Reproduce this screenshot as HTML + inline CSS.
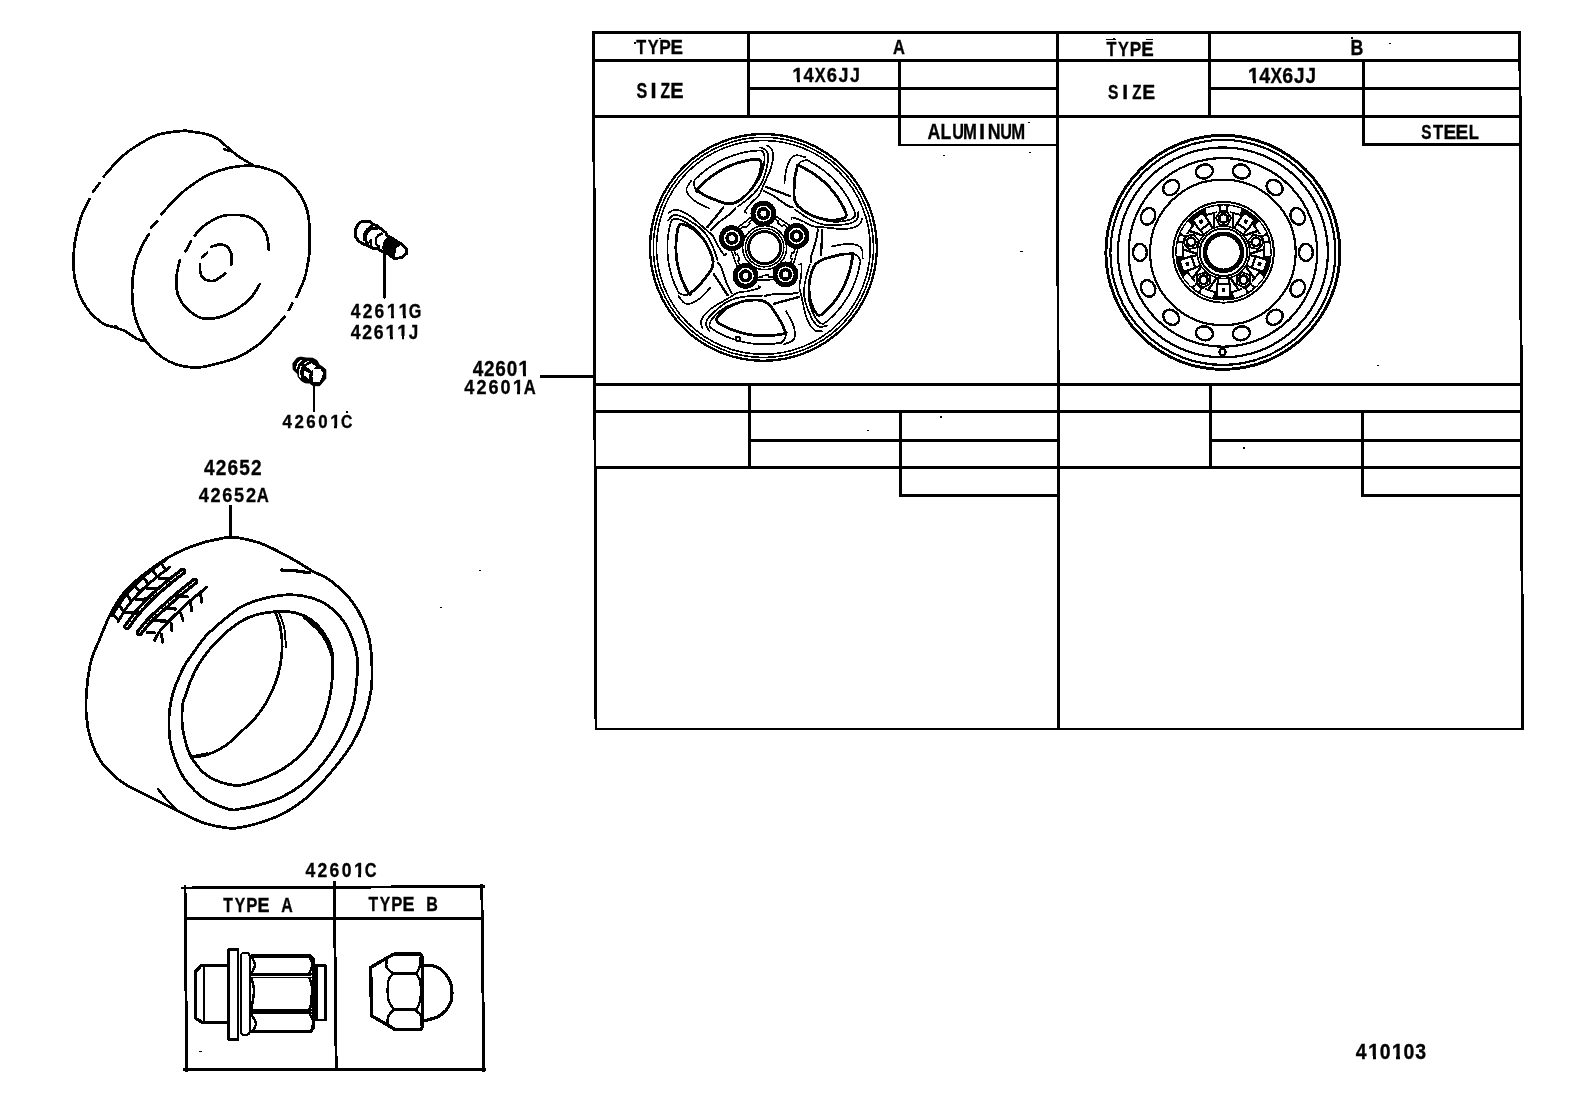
<!DOCTYPE html>
<html><head><meta charset="utf-8"><style>
html,body{margin:0;padding:0;background:#fff;overflow:hidden;}
svg{display:block;}
text{font-family:"Liberation Sans",sans-serif;font-weight:bold;fill:#000;stroke:#000;stroke-width:0.35px;text-anchor:middle;}
</style></head><body>
<svg width="1592" height="1099" viewBox="0 0 1592 1099">
<rect width="1592" height="1099" fill="#fff"/>
<g stroke="#000" fill="none" stroke-linecap="round" stroke-linejoin="round" shape-rendering="crispEdges">
<line x1="593.5" y1="32.2" x2="1519.8" y2="32.2" stroke-width="2.9" stroke-linecap="square"/>
<line x1="593.6" y1="60.3" x2="1519.9" y2="60.3" stroke-width="2.9" stroke-linecap="square"/>
<line x1="748.6" y1="88.6" x2="1057.6" y2="88.6" stroke-width="2.9" stroke-linecap="square"/>
<line x1="1209.6" y1="88.4" x2="1520.0" y2="88.4" stroke-width="2.9" stroke-linecap="square"/>
<line x1="593.8" y1="116.6" x2="1520.0" y2="116.6" stroke-width="2.9" stroke-linecap="square"/>
<line x1="899.8" y1="145" x2="1057.7" y2="145" stroke-width="2.9" stroke-linecap="square"/>
<line x1="1363.2" y1="144.6" x2="1520.2" y2="144.6" stroke-width="2.9" stroke-linecap="square"/>
<line x1="748.6" y1="32.2" x2="748.6" y2="116.6" stroke-width="2.9" stroke-linecap="square"/>
<line x1="1209.6" y1="32.2" x2="1209.6" y2="116.6" stroke-width="2.9" stroke-linecap="square"/>
<line x1="899.8" y1="60.3" x2="899.8" y2="145" stroke-width="2.9" stroke-linecap="square"/>
<line x1="1363.2" y1="60.3" x2="1363.2" y2="144.6" stroke-width="2.9" stroke-linecap="square"/>
<line x1="593.5" y1="32.2" x2="596.0" y2="729" stroke-width="2.9" stroke-linecap="square"/>
<line x1="1057.6" y1="32.2" x2="1058.6" y2="729" stroke-width="2.9" stroke-linecap="square"/>
<line x1="1519.8" y1="32.2" x2="1522.6" y2="729" stroke-width="2.9" stroke-linecap="square"/>
<line x1="594.8" y1="384.3" x2="1521.2" y2="384.3" stroke-width="2.9" stroke-linecap="square"/>
<line x1="594.9" y1="411.7" x2="1521.3" y2="411.7" stroke-width="2.9" stroke-linecap="square"/>
<line x1="749.8" y1="440.2" x2="1058.0" y2="440.2" stroke-width="2.9" stroke-linecap="square"/>
<line x1="1210.6" y1="440.3" x2="1521.4" y2="440.3" stroke-width="2.9" stroke-linecap="square"/>
<line x1="595.0" y1="467.6" x2="1521.5" y2="467.6" stroke-width="2.9" stroke-linecap="square"/>
<line x1="900.8" y1="495.6" x2="1058.1" y2="495.6" stroke-width="2.9" stroke-linecap="square"/>
<line x1="1362.8" y1="495.6" x2="1521.6" y2="495.6" stroke-width="2.9" stroke-linecap="square"/>
<line x1="749.8" y1="384.3" x2="749.8" y2="467.6" stroke-width="2.9" stroke-linecap="square"/>
<line x1="1210.6" y1="384.3" x2="1210.6" y2="467.6" stroke-width="2.9" stroke-linecap="square"/>
<line x1="900.8" y1="411.7" x2="900.8" y2="495.6" stroke-width="2.9" stroke-linecap="square"/>
<line x1="1362.8" y1="411.7" x2="1362.8" y2="495.6" stroke-width="2.9" stroke-linecap="square"/>
<line x1="596.0" y1="729" x2="1522.6" y2="729" stroke-width="2.9" stroke-linecap="square"/>
<line x1="541.5" y1="376.4" x2="593.5" y2="376.4" stroke-width="2.8" stroke-linecap="square"/>
<line x1="182.5" y1="888" x2="483.5" y2="886.5" stroke-width="2.9" stroke-linecap="square"/>
<line x1="185" y1="886.5" x2="186.7" y2="1070.5" stroke-width="2.9" stroke-linecap="square"/>
<line x1="481.8" y1="885.5" x2="483.8" y2="1070.5" stroke-width="2.9" stroke-linecap="square"/>
<line x1="184.5" y1="1069.6" x2="485" y2="1069.6" stroke-width="2.9" stroke-linecap="square"/>
<line x1="185" y1="918.6" x2="482.5" y2="918.6" stroke-width="2.9" stroke-linecap="square"/>
<line x1="334.3" y1="882.3" x2="336.2" y2="1069.5" stroke-width="2.9" stroke-linecap="square"/>
<rect x="479" y="570" width="2.2" height="1.3" fill="#000" stroke="none"/>
<rect x="440" y="607" width="2.2" height="1.3" fill="#000" stroke="none"/>
<rect x="1020" y="250.5" width="2.6" height="1.3" fill="#000" stroke="none"/>
<rect x="940.2" y="415.8" width="1.7" height="1.7" fill="#000" stroke="none"/>
<rect x="867.4" y="430" width="2.0" height="1.3" fill="#000" stroke="none"/>
<rect x="1243" y="447.3" width="2.2" height="1.3" fill="#000" stroke="none"/>
<rect x="1376.6" y="365" width="2.0" height="1.2" fill="#000" stroke="none"/>
<rect x="199" y="1051" width="2.5" height="1.3" fill="#000" stroke="none"/>
<rect x="1389" y="43.3" width="2.0" height="1.1" fill="#000" stroke="none"/>
<rect x="346" y="410.5" width="2.0" height="2.0" fill="#000" stroke="none"/>
<rect x="1351" y="37.4" width="2.0" height="1.8" fill="#000" stroke="none"/>
<rect x="1106" y="38.8" width="10" height="1.1" fill="#000" stroke="none"/>
<rect x="1145.5" y="38.5" width="7.5" height="1.1" fill="#000" stroke="none"/>
<rect x="659" y="37.6" width="2.2" height="1.2" fill="#000" stroke="none"/>
<rect x="634" y="42" width="2.2" height="2.2" fill="#000" stroke="none"/>
<rect x="1113" y="37.6" width="2" height="1.3" fill="#000" stroke="none"/>
<rect x="943" y="154.8" width="2.2" height="1.2" fill="#000" stroke="none"/>
<rect x="1029" y="152" width="2.2" height="1.2" fill="#000" stroke="none"/>
<rect x="1027.5" y="121.5" width="2.5" height="1.2" fill="#000" stroke="none"/>
<circle cx="763.40" cy="247.40" r="113.40" stroke-width="2.318" fill="none" stroke="#000"/>
<circle cx="763.40" cy="247.40" r="110.10" stroke-width="1.586" fill="none" stroke="#000"/>
<circle cx="763.40" cy="247.40" r="106.90" stroke-width="1.586" fill="none" stroke="#000"/>
<g transform="rotate(0 764.4 247.3)">
<path d="M696.61,190.41 C696.99,189.20 700.00,186.54 701.82,184.72 C703.64,182.90 705.54,181.16 707.51,179.51 C709.48,177.85 711.53,176.28 713.64,174.81 C715.74,173.33 717.92,171.94 720.15,170.66 C722.38,169.37 724.67,168.18 727.00,167.09 C729.33,166.01 731.72,165.02 734.13,164.14 C736.55,163.26 739.01,162.48 741.49,161.82 C743.98,161.15 746.50,160.59 749.03,160.14 C751.56,159.70 754.81,159.11 756.69,159.14 C758.56,159.16 759.53,159.49 760.30,160.30 C761.07,161.11 761.25,162.38 761.30,164.00 C761.35,165.62 760.98,168.00 760.60,170.00 C760.22,172.00 759.70,174.07 759.00,176.00 C758.30,177.93 757.90,179.10 756.40,181.60 C754.90,184.10 752.65,188.00 750.00,191.00 C747.35,194.00 743.35,197.52 740.50,199.60 C737.65,201.68 735.55,202.90 732.90,203.50 C730.25,204.10 727.58,203.82 724.60,203.20 C721.62,202.58 718.18,201.03 715.00,199.80 C711.82,198.57 708.08,197.10 705.50,195.80 C702.92,194.50 700.98,192.90 699.50,192.00 C698.02,191.10 696.22,191.63 696.61,190.41 Z" stroke-width="2.8059999999999996" fill="none"/>
<path d="M697.20,191.50 C696.27,189.83 694.83,188.42 694.40,186.50 C693.97,184.58 693.92,181.67 694.60,180.00 C695.28,178.33 697.47,177.48 698.50,176.50 C699.53,175.52 699.28,175.37 700.76,174.09 C702.24,172.81 705.10,170.48 707.38,168.83 C709.66,167.17 712.03,165.61 714.44,164.15 C716.86,162.70 719.35,161.35 721.88,160.12 C724.41,158.88 727.01,157.75 729.64,156.74 C732.27,155.73 734.95,154.83 737.66,154.06 C740.37,153.28 743.13,152.62 745.89,152.08 C748.66,151.54 751.66,151.05 754.26,150.83 C756.86,150.62 759.91,150.36 761.50,150.80 C763.09,151.24 763.28,152.18 763.80,153.50 C764.32,154.82 764.77,156.02 764.60,158.70 C764.43,161.38 763.72,166.27 762.80,169.60 C761.88,172.93 760.78,175.67 759.10,178.70 C757.42,181.73 755.28,184.62 752.70,187.80 C750.12,190.98 746.47,195.18 743.60,197.80 C740.73,200.42 738.20,201.60 735.50,203.50" stroke-width="1.708" fill="none"/>
<path d="M760.00,147.30 C762.13,148.37 765.03,148.77 766.40,150.50 C767.77,152.23 768.20,154.67 768.20,157.70 C768.20,160.73 767.30,164.90 766.40,168.70 C765.50,172.50 764.32,177.02 762.80,180.50 C761.28,183.98 759.73,186.57 757.30,189.60 C754.87,192.63 751.42,195.88 748.20,198.70 C744.98,201.52 741.40,203.90 738.00,206.50" stroke-width="1.708" fill="none"/>
<path d="M735.50,207.80 C734.17,209.47 734.38,210.30 731.50,212.80 C728.62,215.30 721.68,219.87 718.20,222.80 C714.72,225.73 713.13,227.87 710.60,230.40" stroke-width="1.952" fill="none"/>
<path d="M767.30,145.50 C768.83,146.87 770.92,147.72 771.90,149.60 C772.88,151.48 773.35,153.77 773.20,156.80 C773.05,159.83 772.13,164.15 771.00,167.80 C769.87,171.45 767.77,175.52 766.40,178.70 C765.03,181.88 764.02,184.17 762.80,186.90 C761.58,189.63 760.93,192.53 759.10,195.10 C757.27,197.67 754.22,199.58 751.80,202.30 C749.38,205.02 745.50,209.65 744.60,211.40 C743.70,213.15 745.80,212.33 746.40,212.80" stroke-width="1.708" fill="none"/>
<path d="M691.50,180.40 C689.87,183.10 687.13,186.12 686.60,188.50 C686.07,190.88 686.73,192.48 688.30,194.70 C689.87,196.92 692.50,199.52 696.00,201.80 C699.50,204.08 704.87,206.20 709.30,208.40" stroke-width="1.708" fill="none"/>
<path d="M723.30,207.50 L707.40,227.20" stroke-width="2.318" fill="none"/>
</g>
<g transform="rotate(72 764.4 247.3)">
<path d="M696.61,190.41 C696.99,189.20 700.00,186.54 701.82,184.72 C703.64,182.90 705.54,181.16 707.51,179.51 C709.48,177.85 711.53,176.28 713.64,174.81 C715.74,173.33 717.92,171.94 720.15,170.66 C722.38,169.37 724.67,168.18 727.00,167.09 C729.33,166.01 731.72,165.02 734.13,164.14 C736.55,163.26 739.01,162.48 741.49,161.82 C743.98,161.15 746.50,160.59 749.03,160.14 C751.56,159.70 754.81,159.11 756.69,159.14 C758.56,159.16 759.53,159.49 760.30,160.30 C761.07,161.11 761.25,162.38 761.30,164.00 C761.35,165.62 760.98,168.00 760.60,170.00 C760.22,172.00 759.70,174.07 759.00,176.00 C758.30,177.93 757.90,179.10 756.40,181.60 C754.90,184.10 752.65,188.00 750.00,191.00 C747.35,194.00 743.35,197.52 740.50,199.60 C737.65,201.68 735.55,202.90 732.90,203.50 C730.25,204.10 727.58,203.82 724.60,203.20 C721.62,202.58 718.18,201.03 715.00,199.80 C711.82,198.57 708.08,197.10 705.50,195.80 C702.92,194.50 700.98,192.90 699.50,192.00 C698.02,191.10 696.22,191.63 696.61,190.41 Z" stroke-width="2.8059999999999996" fill="none"/>
<path d="M697.20,191.50 C696.27,189.83 694.83,188.42 694.40,186.50 C693.97,184.58 693.92,181.67 694.60,180.00 C695.28,178.33 697.47,177.48 698.50,176.50 C699.53,175.52 699.28,175.37 700.76,174.09 C702.24,172.81 705.10,170.48 707.38,168.83 C709.66,167.17 712.03,165.61 714.44,164.15 C716.86,162.70 719.35,161.35 721.88,160.12 C724.41,158.88 727.01,157.75 729.64,156.74 C732.27,155.73 734.95,154.83 737.66,154.06 C740.37,153.28 743.13,152.62 745.89,152.08 C748.66,151.54 751.66,151.05 754.26,150.83 C756.86,150.62 759.91,150.36 761.50,150.80 C763.09,151.24 763.28,152.18 763.80,153.50 C764.32,154.82 764.77,156.02 764.60,158.70 C764.43,161.38 763.72,166.27 762.80,169.60 C761.88,172.93 760.78,175.67 759.10,178.70 C757.42,181.73 755.28,184.62 752.70,187.80 C750.12,190.98 746.47,195.18 743.60,197.80 C740.73,200.42 738.20,201.60 735.50,203.50" stroke-width="1.708" fill="none"/>
<path d="M760.00,147.30 C762.13,148.37 765.03,148.77 766.40,150.50 C767.77,152.23 768.20,154.67 768.20,157.70 C768.20,160.73 767.30,164.90 766.40,168.70 C765.50,172.50 764.32,177.02 762.80,180.50 C761.28,183.98 759.73,186.57 757.30,189.60 C754.87,192.63 751.42,195.88 748.20,198.70 C744.98,201.52 741.40,203.90 738.00,206.50" stroke-width="1.708" fill="none"/>
<path d="M735.50,207.80 C734.17,209.47 734.38,210.30 731.50,212.80 C728.62,215.30 721.68,219.87 718.20,222.80 C714.72,225.73 713.13,227.87 710.60,230.40" stroke-width="1.952" fill="none"/>
<path d="M767.30,145.50 C768.83,146.87 770.92,147.72 771.90,149.60 C772.88,151.48 773.35,153.77 773.20,156.80 C773.05,159.83 772.13,164.15 771.00,167.80 C769.87,171.45 767.77,175.52 766.40,178.70 C765.03,181.88 764.02,184.17 762.80,186.90 C761.58,189.63 760.93,192.53 759.10,195.10 C757.27,197.67 754.22,199.58 751.80,202.30 C749.38,205.02 745.50,209.65 744.60,211.40 C743.70,213.15 745.80,212.33 746.40,212.80" stroke-width="1.708" fill="none"/>
<path d="M691.50,180.40 C689.87,183.10 687.13,186.12 686.60,188.50 C686.07,190.88 686.73,192.48 688.30,194.70 C689.87,196.92 692.50,199.52 696.00,201.80 C699.50,204.08 704.87,206.20 709.30,208.40" stroke-width="1.708" fill="none"/>
<path d="M723.30,207.50 L707.40,227.20" stroke-width="2.318" fill="none"/>
</g>
<g transform="rotate(144 764.4 247.3)">
<path d="M696.61,190.41 C696.99,189.20 700.00,186.54 701.82,184.72 C703.64,182.90 705.54,181.16 707.51,179.51 C709.48,177.85 711.53,176.28 713.64,174.81 C715.74,173.33 717.92,171.94 720.15,170.66 C722.38,169.37 724.67,168.18 727.00,167.09 C729.33,166.01 731.72,165.02 734.13,164.14 C736.55,163.26 739.01,162.48 741.49,161.82 C743.98,161.15 746.50,160.59 749.03,160.14 C751.56,159.70 754.81,159.11 756.69,159.14 C758.56,159.16 759.53,159.49 760.30,160.30 C761.07,161.11 761.25,162.38 761.30,164.00 C761.35,165.62 760.98,168.00 760.60,170.00 C760.22,172.00 759.70,174.07 759.00,176.00 C758.30,177.93 757.90,179.10 756.40,181.60 C754.90,184.10 752.65,188.00 750.00,191.00 C747.35,194.00 743.35,197.52 740.50,199.60 C737.65,201.68 735.55,202.90 732.90,203.50 C730.25,204.10 727.58,203.82 724.60,203.20 C721.62,202.58 718.18,201.03 715.00,199.80 C711.82,198.57 708.08,197.10 705.50,195.80 C702.92,194.50 700.98,192.90 699.50,192.00 C698.02,191.10 696.22,191.63 696.61,190.41 Z" stroke-width="2.8059999999999996" fill="none"/>
<path d="M697.20,191.50 C696.27,189.83 694.83,188.42 694.40,186.50 C693.97,184.58 693.92,181.67 694.60,180.00 C695.28,178.33 697.47,177.48 698.50,176.50 C699.53,175.52 699.28,175.37 700.76,174.09 C702.24,172.81 705.10,170.48 707.38,168.83 C709.66,167.17 712.03,165.61 714.44,164.15 C716.86,162.70 719.35,161.35 721.88,160.12 C724.41,158.88 727.01,157.75 729.64,156.74 C732.27,155.73 734.95,154.83 737.66,154.06 C740.37,153.28 743.13,152.62 745.89,152.08 C748.66,151.54 751.66,151.05 754.26,150.83 C756.86,150.62 759.91,150.36 761.50,150.80 C763.09,151.24 763.28,152.18 763.80,153.50 C764.32,154.82 764.77,156.02 764.60,158.70 C764.43,161.38 763.72,166.27 762.80,169.60 C761.88,172.93 760.78,175.67 759.10,178.70 C757.42,181.73 755.28,184.62 752.70,187.80 C750.12,190.98 746.47,195.18 743.60,197.80 C740.73,200.42 738.20,201.60 735.50,203.50" stroke-width="1.708" fill="none"/>
<path d="M760.00,147.30 C762.13,148.37 765.03,148.77 766.40,150.50 C767.77,152.23 768.20,154.67 768.20,157.70 C768.20,160.73 767.30,164.90 766.40,168.70 C765.50,172.50 764.32,177.02 762.80,180.50 C761.28,183.98 759.73,186.57 757.30,189.60 C754.87,192.63 751.42,195.88 748.20,198.70 C744.98,201.52 741.40,203.90 738.00,206.50" stroke-width="1.708" fill="none"/>
<path d="M735.50,207.80 C734.17,209.47 734.38,210.30 731.50,212.80 C728.62,215.30 721.68,219.87 718.20,222.80 C714.72,225.73 713.13,227.87 710.60,230.40" stroke-width="1.952" fill="none"/>
<path d="M767.30,145.50 C768.83,146.87 770.92,147.72 771.90,149.60 C772.88,151.48 773.35,153.77 773.20,156.80 C773.05,159.83 772.13,164.15 771.00,167.80 C769.87,171.45 767.77,175.52 766.40,178.70 C765.03,181.88 764.02,184.17 762.80,186.90 C761.58,189.63 760.93,192.53 759.10,195.10 C757.27,197.67 754.22,199.58 751.80,202.30 C749.38,205.02 745.50,209.65 744.60,211.40 C743.70,213.15 745.80,212.33 746.40,212.80" stroke-width="1.708" fill="none"/>
<path d="M691.50,180.40 C689.87,183.10 687.13,186.12 686.60,188.50 C686.07,190.88 686.73,192.48 688.30,194.70 C689.87,196.92 692.50,199.52 696.00,201.80 C699.50,204.08 704.87,206.20 709.30,208.40" stroke-width="1.708" fill="none"/>
<path d="M723.30,207.50 L707.40,227.20" stroke-width="2.318" fill="none"/>
</g>
<g transform="rotate(216 764.4 247.3)">
<path d="M696.61,190.41 C696.99,189.20 700.00,186.54 701.82,184.72 C703.64,182.90 705.54,181.16 707.51,179.51 C709.48,177.85 711.53,176.28 713.64,174.81 C715.74,173.33 717.92,171.94 720.15,170.66 C722.38,169.37 724.67,168.18 727.00,167.09 C729.33,166.01 731.72,165.02 734.13,164.14 C736.55,163.26 739.01,162.48 741.49,161.82 C743.98,161.15 746.50,160.59 749.03,160.14 C751.56,159.70 754.81,159.11 756.69,159.14 C758.56,159.16 759.53,159.49 760.30,160.30 C761.07,161.11 761.25,162.38 761.30,164.00 C761.35,165.62 760.98,168.00 760.60,170.00 C760.22,172.00 759.70,174.07 759.00,176.00 C758.30,177.93 757.90,179.10 756.40,181.60 C754.90,184.10 752.65,188.00 750.00,191.00 C747.35,194.00 743.35,197.52 740.50,199.60 C737.65,201.68 735.55,202.90 732.90,203.50 C730.25,204.10 727.58,203.82 724.60,203.20 C721.62,202.58 718.18,201.03 715.00,199.80 C711.82,198.57 708.08,197.10 705.50,195.80 C702.92,194.50 700.98,192.90 699.50,192.00 C698.02,191.10 696.22,191.63 696.61,190.41 Z" stroke-width="2.8059999999999996" fill="none"/>
<path d="M697.20,191.50 C696.27,189.83 694.83,188.42 694.40,186.50 C693.97,184.58 693.92,181.67 694.60,180.00 C695.28,178.33 697.47,177.48 698.50,176.50 C699.53,175.52 699.28,175.37 700.76,174.09 C702.24,172.81 705.10,170.48 707.38,168.83 C709.66,167.17 712.03,165.61 714.44,164.15 C716.86,162.70 719.35,161.35 721.88,160.12 C724.41,158.88 727.01,157.75 729.64,156.74 C732.27,155.73 734.95,154.83 737.66,154.06 C740.37,153.28 743.13,152.62 745.89,152.08 C748.66,151.54 751.66,151.05 754.26,150.83 C756.86,150.62 759.91,150.36 761.50,150.80 C763.09,151.24 763.28,152.18 763.80,153.50 C764.32,154.82 764.77,156.02 764.60,158.70 C764.43,161.38 763.72,166.27 762.80,169.60 C761.88,172.93 760.78,175.67 759.10,178.70 C757.42,181.73 755.28,184.62 752.70,187.80 C750.12,190.98 746.47,195.18 743.60,197.80 C740.73,200.42 738.20,201.60 735.50,203.50" stroke-width="1.708" fill="none"/>
<path d="M760.00,147.30 C762.13,148.37 765.03,148.77 766.40,150.50 C767.77,152.23 768.20,154.67 768.20,157.70 C768.20,160.73 767.30,164.90 766.40,168.70 C765.50,172.50 764.32,177.02 762.80,180.50 C761.28,183.98 759.73,186.57 757.30,189.60 C754.87,192.63 751.42,195.88 748.20,198.70 C744.98,201.52 741.40,203.90 738.00,206.50" stroke-width="1.708" fill="none"/>
<path d="M735.50,207.80 C734.17,209.47 734.38,210.30 731.50,212.80 C728.62,215.30 721.68,219.87 718.20,222.80 C714.72,225.73 713.13,227.87 710.60,230.40" stroke-width="1.952" fill="none"/>
<path d="M767.30,145.50 C768.83,146.87 770.92,147.72 771.90,149.60 C772.88,151.48 773.35,153.77 773.20,156.80 C773.05,159.83 772.13,164.15 771.00,167.80 C769.87,171.45 767.77,175.52 766.40,178.70 C765.03,181.88 764.02,184.17 762.80,186.90 C761.58,189.63 760.93,192.53 759.10,195.10 C757.27,197.67 754.22,199.58 751.80,202.30 C749.38,205.02 745.50,209.65 744.60,211.40 C743.70,213.15 745.80,212.33 746.40,212.80" stroke-width="1.708" fill="none"/>
<path d="M691.50,180.40 C689.87,183.10 687.13,186.12 686.60,188.50 C686.07,190.88 686.73,192.48 688.30,194.70 C689.87,196.92 692.50,199.52 696.00,201.80 C699.50,204.08 704.87,206.20 709.30,208.40" stroke-width="1.708" fill="none"/>
<path d="M723.30,207.50 L707.40,227.20" stroke-width="2.318" fill="none"/>
</g>
<g transform="rotate(288 764.4 247.3)">
<path d="M696.61,190.41 C696.99,189.20 700.00,186.54 701.82,184.72 C703.64,182.90 705.54,181.16 707.51,179.51 C709.48,177.85 711.53,176.28 713.64,174.81 C715.74,173.33 717.92,171.94 720.15,170.66 C722.38,169.37 724.67,168.18 727.00,167.09 C729.33,166.01 731.72,165.02 734.13,164.14 C736.55,163.26 739.01,162.48 741.49,161.82 C743.98,161.15 746.50,160.59 749.03,160.14 C751.56,159.70 754.81,159.11 756.69,159.14 C758.56,159.16 759.53,159.49 760.30,160.30 C761.07,161.11 761.25,162.38 761.30,164.00 C761.35,165.62 760.98,168.00 760.60,170.00 C760.22,172.00 759.70,174.07 759.00,176.00 C758.30,177.93 757.90,179.10 756.40,181.60 C754.90,184.10 752.65,188.00 750.00,191.00 C747.35,194.00 743.35,197.52 740.50,199.60 C737.65,201.68 735.55,202.90 732.90,203.50 C730.25,204.10 727.58,203.82 724.60,203.20 C721.62,202.58 718.18,201.03 715.00,199.80 C711.82,198.57 708.08,197.10 705.50,195.80 C702.92,194.50 700.98,192.90 699.50,192.00 C698.02,191.10 696.22,191.63 696.61,190.41 Z" stroke-width="2.8059999999999996" fill="none"/>
<path d="M697.20,191.50 C696.27,189.83 694.83,188.42 694.40,186.50 C693.97,184.58 693.92,181.67 694.60,180.00 C695.28,178.33 697.47,177.48 698.50,176.50 C699.53,175.52 699.28,175.37 700.76,174.09 C702.24,172.81 705.10,170.48 707.38,168.83 C709.66,167.17 712.03,165.61 714.44,164.15 C716.86,162.70 719.35,161.35 721.88,160.12 C724.41,158.88 727.01,157.75 729.64,156.74 C732.27,155.73 734.95,154.83 737.66,154.06 C740.37,153.28 743.13,152.62 745.89,152.08 C748.66,151.54 751.66,151.05 754.26,150.83 C756.86,150.62 759.91,150.36 761.50,150.80 C763.09,151.24 763.28,152.18 763.80,153.50 C764.32,154.82 764.77,156.02 764.60,158.70 C764.43,161.38 763.72,166.27 762.80,169.60 C761.88,172.93 760.78,175.67 759.10,178.70 C757.42,181.73 755.28,184.62 752.70,187.80 C750.12,190.98 746.47,195.18 743.60,197.80 C740.73,200.42 738.20,201.60 735.50,203.50" stroke-width="1.708" fill="none"/>
<path d="M760.00,147.30 C762.13,148.37 765.03,148.77 766.40,150.50 C767.77,152.23 768.20,154.67 768.20,157.70 C768.20,160.73 767.30,164.90 766.40,168.70 C765.50,172.50 764.32,177.02 762.80,180.50 C761.28,183.98 759.73,186.57 757.30,189.60 C754.87,192.63 751.42,195.88 748.20,198.70 C744.98,201.52 741.40,203.90 738.00,206.50" stroke-width="1.708" fill="none"/>
<path d="M735.50,207.80 C734.17,209.47 734.38,210.30 731.50,212.80 C728.62,215.30 721.68,219.87 718.20,222.80 C714.72,225.73 713.13,227.87 710.60,230.40" stroke-width="1.952" fill="none"/>
<path d="M767.30,145.50 C768.83,146.87 770.92,147.72 771.90,149.60 C772.88,151.48 773.35,153.77 773.20,156.80 C773.05,159.83 772.13,164.15 771.00,167.80 C769.87,171.45 767.77,175.52 766.40,178.70 C765.03,181.88 764.02,184.17 762.80,186.90 C761.58,189.63 760.93,192.53 759.10,195.10 C757.27,197.67 754.22,199.58 751.80,202.30 C749.38,205.02 745.50,209.65 744.60,211.40 C743.70,213.15 745.80,212.33 746.40,212.80" stroke-width="1.708" fill="none"/>
<path d="M691.50,180.40 C689.87,183.10 687.13,186.12 686.60,188.50 C686.07,190.88 686.73,192.48 688.30,194.70 C689.87,196.92 692.50,199.52 696.00,201.80 C699.50,204.08 704.87,206.20 709.30,208.40" stroke-width="1.708" fill="none"/>
<path d="M723.30,207.50 L707.40,227.20" stroke-width="2.318" fill="none"/>
</g>
<circle cx="764.60" cy="247.60" r="22.00" stroke-width="1.586" fill="none" stroke="#000"/>
<circle cx="764.60" cy="247.60" r="19.20" stroke-width="1.586" fill="none" stroke="#000"/>
<circle cx="764.60" cy="247.60" r="16.00" stroke-width="2.928" fill="none" stroke="#000"/>
<path d="M772.81,217.55 L778.61,221.47 L777.60,222.96 L782.58,226.31 L783.58,224.82 L789.39,228.74" stroke-width="1.586" fill="none"/>
<path d="M774.37,215.23 L790.95,226.41" stroke-width="1.586" fill="none"/>
<path d="M795.71,246.12 L793.78,252.85 L792.05,252.35 L790.40,258.12 L792.13,258.62 L790.20,265.34" stroke-width="1.586" fill="none"/>
<path d="M798.41,246.89 L792.89,266.12" stroke-width="1.586" fill="none"/>
<path d="M775.62,276.73 L768.63,276.98 L768.56,275.18 L762.57,275.39 L762.63,277.19 L755.64,277.43" stroke-width="1.586" fill="none"/>
<path d="M775.72,279.53 L755.73,280.23" stroke-width="1.586" fill="none"/>
<path d="M740.30,267.09 L737.91,260.51 L739.60,259.89 L737.54,254.25 L735.85,254.87 L733.46,248.29" stroke-width="1.586" fill="none"/>
<path d="M737.67,268.04 L730.83,249.25" stroke-width="1.586" fill="none"/>
<path d="M738.56,230.51 L744.07,226.20 L745.18,227.62 L749.91,223.93 L748.80,222.51 L754.32,218.20" stroke-width="1.586" fill="none"/>
<path d="M736.83,228.30 L752.59,215.99" stroke-width="1.586" fill="none"/>
<circle cx="763.41" cy="213.62" r="10.50" stroke-width="4.88" fill="#fff" stroke="#000"/>
<circle cx="763.41" cy="213.62" r="4.75" stroke-width="3.66" fill="none" stroke="#000"/>
<circle cx="796.55" cy="235.97" r="10.50" stroke-width="4.88" fill="#fff" stroke="#000"/>
<circle cx="796.55" cy="235.97" r="4.75" stroke-width="3.66" fill="none" stroke="#000"/>
<circle cx="785.53" cy="274.39" r="10.50" stroke-width="4.88" fill="#fff" stroke="#000"/>
<circle cx="785.53" cy="274.39" r="4.75" stroke-width="3.66" fill="none" stroke="#000"/>
<circle cx="745.59" cy="275.79" r="10.50" stroke-width="4.88" fill="#fff" stroke="#000"/>
<circle cx="745.59" cy="275.79" r="4.75" stroke-width="3.66" fill="none" stroke="#000"/>
<circle cx="731.92" cy="238.23" r="10.50" stroke-width="4.88" fill="#fff" stroke="#000"/>
<circle cx="731.92" cy="238.23" r="4.75" stroke-width="3.66" fill="none" stroke="#000"/>
<circle cx="737.80" cy="338.80" r="2.20" stroke-width="2.196" fill="none" stroke="#000"/>
<circle cx="1222.90" cy="252.40" r="117.00" stroke-width="2.928" fill="none" stroke="#000"/>
<circle cx="1222.90" cy="252.40" r="112.50" stroke-width="2.196" fill="none" stroke="#000"/>
<circle cx="1222.90" cy="252.40" r="105.00" stroke-width="2.196" fill="none" stroke="#000"/>
<circle cx="1222.90" cy="252.40" r="94.30" stroke-width="2.196" fill="none" stroke="#000"/>
<circle cx="1222.90" cy="252.40" r="72.80" stroke-width="2.196" fill="none" stroke="#000"/>
<ellipse cx="1241.37" cy="171.48" rx="8.60" ry="6.90" transform="rotate(12.86 1241.37 171.48)" stroke-width="2.44"/>
<ellipse cx="1274.65" cy="187.51" rx="8.60" ry="6.90" transform="rotate(38.57 1274.65 187.51)" stroke-width="2.44"/>
<ellipse cx="1297.68" cy="216.39" rx="8.60" ry="6.90" transform="rotate(64.28 1297.68 216.39)" stroke-width="2.44"/>
<ellipse cx="1305.90" cy="252.40" rx="8.60" ry="6.90" transform="rotate(90.00 1305.90 252.40)" stroke-width="2.44"/>
<ellipse cx="1297.68" cy="288.41" rx="8.60" ry="6.90" transform="rotate(115.71 1297.68 288.41)" stroke-width="2.44"/>
<ellipse cx="1274.65" cy="317.29" rx="8.60" ry="6.90" transform="rotate(141.43 1274.65 317.29)" stroke-width="2.44"/>
<ellipse cx="1241.37" cy="333.32" rx="8.60" ry="6.90" transform="rotate(167.14 1241.37 333.32)" stroke-width="2.44"/>
<ellipse cx="1204.43" cy="333.32" rx="8.60" ry="6.90" transform="rotate(192.85 1204.43 333.32)" stroke-width="2.44"/>
<ellipse cx="1171.15" cy="317.29" rx="8.60" ry="6.90" transform="rotate(218.57 1171.15 317.29)" stroke-width="2.44"/>
<ellipse cx="1148.12" cy="288.42" rx="8.60" ry="6.90" transform="rotate(244.28 1148.12 288.42)" stroke-width="2.44"/>
<ellipse cx="1139.90" cy="252.40" rx="8.60" ry="6.90" transform="rotate(270.00 1139.90 252.40)" stroke-width="2.44"/>
<ellipse cx="1148.12" cy="216.39" rx="8.60" ry="6.90" transform="rotate(295.71 1148.12 216.39)" stroke-width="2.44"/>
<ellipse cx="1171.15" cy="187.51" rx="8.60" ry="6.90" transform="rotate(321.42 1171.15 187.51)" stroke-width="2.44"/>
<ellipse cx="1204.43" cy="171.48" rx="8.60" ry="6.90" transform="rotate(347.14 1204.43 171.48)" stroke-width="2.44"/>
<circle cx="1222.50" cy="352.00" r="3.00" stroke-width="2.196" fill="none" stroke="#000"/>
<circle cx="1223.5" cy="252.3" r="45.5" stroke-width="11.6" fill="none"/>
<circle cx="1223.5" cy="252.3" r="48.8" stroke-width="1.1" fill="none" stroke="#fff"/>
<circle cx="1223.5" cy="252.3" r="23.7" stroke-width="2.0" fill="none"/>
<circle cx="1223.5" cy="252.3" r="18.5" stroke-width="4.6" fill="none"/>
<circle cx="1223.5" cy="252.3" r="26.2" stroke-width="1.6" fill="none"/>
<path d="M1207.52,213.67 L1218.75,210.77 L1219.08,209.24 L1218.43,206.72 L1217.20,205.59 L1206.36,208.39 L1205.84,209.97 L1206.49,212.49 Z" fill="#fff" stroke="none" stroke-width="0"/>
<path d="M1228.25,210.77 L1239.48,213.67 L1240.51,212.49 L1241.16,209.97 L1240.64,208.39 L1229.80,205.59 L1228.57,206.72 L1227.92,209.24 Z" fill="#fff" stroke="none" stroke-width="0"/>
<path d="M1220.90,209.70 L1226.10,209.70 L1226.50,206.70 L1223.50,205.30 L1220.50,206.70 Z" fill="#fff" stroke="none" stroke-width="0"/>
<path d="M1216.00,215.10 L1231.00,215.10 L1229.50,211.30 L1217.50,211.30 Z" fill="#fff" stroke="none" stroke-width="0"/>
<path d="M1214.00,227.56 L1213.70,213.00" stroke-width="2.4"/>
<path d="M1233.00,227.56 L1233.30,213.00" stroke-width="2.4"/>
<path d="M1227.30,211.72 L1231.10,218.30 L1227.30,224.88 L1219.70,224.88 L1215.90,218.30 L1219.70,211.72 Z" stroke-width="1.8" fill="none"/>
<circle cx="1223.50" cy="218.30" r="4.2" stroke-width="2.6" fill="none"/>
<path d="M1237.06,223.09 L1247.09,230.38 L1254.61,220.02 L1244.58,212.74 Z" fill="#fff" stroke="#000" stroke-width="2.2"/>
<path d="M1243.18,221.98 L1246.26,224.21 L1248.49,221.14 L1245.42,218.90 Z" fill="#000" stroke="none" stroke-width="0"/>
<path d="M1234.16,228.37 L1237.28,223.42" stroke-width="2.0"/>
<path d="M1242.97,234.77 L1246.71,230.27" stroke-width="2.0"/>
<path d="M1255.30,225.16 L1261.53,234.95 L1263.09,234.79 L1265.28,233.39 L1265.98,231.88 L1259.96,222.43 L1258.30,222.42 L1256.10,223.82 Z" fill="#fff" stroke="none" stroke-width="0"/>
<path d="M1264.47,243.98 L1265.18,255.56 L1266.62,256.17 L1269.21,256.02 L1270.55,255.03 L1269.87,243.85 L1268.42,243.04 L1265.82,243.20 Z" fill="#fff" stroke="none" stroke-width="0"/>
<path d="M1263.21,236.66 L1264.82,241.61 L1267.80,241.06 L1268.20,237.78 L1265.94,235.36 Z" fill="#fff" stroke="none" stroke-width="0"/>
<path d="M1256.56,233.67 L1261.20,247.94 L1264.35,245.34 L1260.64,233.92 Z" fill="#fff" stroke="none" stroke-width="0"/>
<path d="M1244.09,235.62 L1257.85,230.84" stroke-width="2.4"/>
<path d="M1249.96,253.69 L1263.90,249.47" stroke-width="2.4"/>
<path d="M1263.27,243.37 L1258.18,249.02 L1250.75,247.44 L1248.40,240.21 L1253.49,234.57 L1260.92,236.15 Z" stroke-width="1.8" fill="none"/>
<circle cx="1255.84" cy="241.79" r="4.2" stroke-width="2.6" fill="none"/>
<path d="M1255.47,256.17 L1251.64,267.96 L1263.81,271.92 L1267.64,260.12 Z" fill="#fff" stroke="#000" stroke-width="2.2"/>
<path d="M1258.42,261.65 L1257.25,265.26 L1260.86,266.44 L1262.03,262.82 Z" fill="#000" stroke="none" stroke-width="0"/>
<path d="M1249.56,255.04 L1255.23,256.48" stroke-width="2.0"/>
<path d="M1246.19,265.40 L1251.62,267.57" stroke-width="2.0"/>
<path d="M1259.13,274.16 L1251.76,283.11 L1252.39,284.54 L1254.40,286.19 L1256.05,286.39 L1263.17,277.75 L1262.67,276.16 L1260.66,274.51 Z" fill="#fff" stroke="none" stroke-width="0"/>
<path d="M1244.07,288.69 L1233.28,292.94 L1233.14,294.50 L1234.09,296.92 L1235.44,297.90 L1245.86,293.79 L1246.19,292.16 L1245.23,289.74 Z" fill="#fff" stroke="none" stroke-width="0"/>
<path d="M1250.64,285.24 L1246.44,288.29 L1247.88,290.95 L1251.13,290.32 L1252.73,287.43 Z" fill="#fff" stroke="none" stroke-width="0"/>
<path d="M1251.43,277.99 L1239.30,286.80 L1242.75,289.00 L1252.45,281.94 Z" fill="#fff" stroke="none" stroke-width="0"/>
<path d="M1245.72,266.73 L1254.52,278.33" stroke-width="2.4"/>
<path d="M1230.36,277.90 L1238.67,289.85" stroke-width="2.4"/>
<path d="M1244.28,287.36 L1237.34,284.27 L1236.54,276.72 L1242.69,272.25 L1249.63,275.34 L1250.43,282.90 Z" stroke-width="1.8" fill="none"/>
<circle cx="1243.48" cy="279.81" r="4.2" stroke-width="2.6" fill="none"/>
<path d="M1229.70,283.90 L1217.30,283.90 L1217.30,296.70 L1229.70,296.70 Z" fill="#fff" stroke="#000" stroke-width="2.2"/>
<path d="M1225.40,288.40 L1221.60,288.40 L1221.60,292.20 L1225.40,292.20 Z" fill="#000" stroke="none" stroke-width="0"/>
<path d="M1228.95,277.93 L1229.33,283.76" stroke-width="2.0"/>
<path d="M1218.05,277.93 L1217.67,283.76" stroke-width="2.0"/>
<path d="M1213.72,292.94 L1202.93,288.69 L1201.77,289.74 L1200.81,292.16 L1201.14,293.79 L1211.56,297.90 L1212.91,296.92 L1213.86,294.50 Z" fill="#fff" stroke="none" stroke-width="0"/>
<path d="M1195.24,283.11 L1187.87,274.16 L1186.34,274.51 L1184.33,276.16 L1183.83,277.75 L1190.95,286.39 L1192.60,286.19 L1194.61,284.54 Z" fill="#fff" stroke="none" stroke-width="0"/>
<path d="M1200.56,288.29 L1196.36,285.24 L1194.27,287.43 L1195.87,290.32 L1199.12,290.95 Z" fill="#fff" stroke="none" stroke-width="0"/>
<path d="M1207.70,286.80 L1195.57,277.99 L1194.55,281.94 L1204.25,289.00 Z" fill="#fff" stroke="none" stroke-width="0"/>
<path d="M1216.64,277.90 L1208.33,289.85" stroke-width="2.4"/>
<path d="M1201.28,266.73 L1192.48,278.33" stroke-width="2.4"/>
<path d="M1196.57,282.90 L1197.37,275.34 L1204.31,272.25 L1210.46,276.72 L1209.66,284.27 L1202.72,287.36 Z" stroke-width="1.8" fill="none"/>
<circle cx="1203.52" cy="279.81" r="4.2" stroke-width="2.6" fill="none"/>
<path d="M1195.36,267.96 L1191.53,256.17 L1179.36,260.12 L1183.19,271.92 Z" fill="#fff" stroke="#000" stroke-width="2.2"/>
<path d="M1189.75,265.26 L1188.58,261.65 L1184.97,262.82 L1186.14,266.44 Z" fill="#000" stroke="none" stroke-width="0"/>
<path d="M1200.81,265.40 L1195.38,267.57" stroke-width="2.0"/>
<path d="M1197.44,255.04 L1191.77,256.48" stroke-width="2.0"/>
<path d="M1181.82,255.56 L1182.53,243.98 L1181.18,243.20 L1178.58,243.04 L1177.13,243.85 L1176.45,255.03 L1177.79,256.02 L1180.38,256.17 Z" fill="#fff" stroke="none" stroke-width="0"/>
<path d="M1185.47,234.95 L1191.70,225.16 L1190.90,223.82 L1188.70,222.42 L1187.04,222.43 L1181.02,231.88 L1181.72,233.39 L1183.91,234.79 Z" fill="#fff" stroke="none" stroke-width="0"/>
<path d="M1182.18,241.61 L1183.79,236.66 L1181.06,235.36 L1178.80,237.78 L1179.20,241.06 Z" fill="#fff" stroke="none" stroke-width="0"/>
<path d="M1185.80,247.94 L1190.44,233.67 L1186.36,233.92 L1182.65,245.34 Z" fill="#fff" stroke="none" stroke-width="0"/>
<path d="M1197.04,253.69 L1183.10,249.47" stroke-width="2.4"/>
<path d="M1202.91,235.62 L1189.15,230.84" stroke-width="2.4"/>
<path d="M1186.08,236.15 L1193.51,234.57 L1198.60,240.21 L1196.25,247.44 L1188.82,249.02 L1183.73,243.37 Z" stroke-width="1.8" fill="none"/>
<circle cx="1191.16" cy="241.79" r="4.2" stroke-width="2.6" fill="none"/>
<path d="M1199.91,230.38 L1209.94,223.09 L1202.42,212.74 L1192.39,220.02 Z" fill="#fff" stroke="#000" stroke-width="2.2"/>
<path d="M1200.74,224.21 L1203.82,221.98 L1201.58,218.90 L1198.51,221.14 Z" fill="#000" stroke="none" stroke-width="0"/>
<path d="M1204.03,234.77 L1200.29,230.27" stroke-width="2.0"/>
<path d="M1212.84,228.37 L1209.72,223.42" stroke-width="2.0"/>
<path d="M253.90,165.80 C250.33,163.63 246.17,161.17 243.20,159.30 C240.23,157.43 238.47,156.37 236.10,154.60 C233.73,152.83 232.15,151.37 229.00,148.70 C225.85,146.03 221.13,141.07 217.20,138.60 C213.27,136.13 209.93,135.08 205.40,133.90 C200.87,132.72 193.83,132.00 190.00,131.50 C186.17,131.00 187.62,130.40 182.40,130.90 C177.18,131.40 166.00,132.23 158.70,134.50 C151.40,136.77 144.90,140.67 138.60,144.50 C132.30,148.33 126.72,152.17 120.90,157.50 C115.08,162.83 109.43,170.17 103.70,176.50" stroke-width="2.684" fill="none"/>
<path d="M99.60,183.00 L93.10,191.80" stroke-width="2.684" fill="none"/>
<path d="M89.50,198.90 C86.93,204.23 83.87,209.47 81.80,214.90 C79.73,220.33 78.28,226.77 77.10,231.50 C75.92,236.23 75.28,239.38 74.70,243.30 C74.12,247.22 73.82,251.88 73.60,255.00 C73.38,258.12 73.22,258.15 73.40,262.00 C73.58,265.85 73.68,272.65 74.70,278.10 C75.72,283.55 77.52,289.77 79.50,294.70 C81.48,299.63 84.23,304.15 86.60,307.70 C88.97,311.25 90.75,313.23 93.70,316.00 C96.65,318.77 100.57,322.33 104.30,324.30 C108.03,326.27 112.55,326.62 116.10,327.80 C119.65,328.98 122.25,329.63 125.60,331.40 C128.95,333.17 133.25,336.80 136.20,338.40 C139.15,340.00 140.93,340.13 143.30,341.00" stroke-width="2.684" fill="none"/>
<path d="M224.00,149.20 L229.50,151.00" stroke-width="2.44" fill="none"/>
<path d="M115.00,326.00 L117.50,327.50" stroke-width="2.928" fill="none"/>
<path d="M161.10,214.30 C164.23,210.97 166.95,207.95 170.50,204.30 C174.05,200.65 179.15,195.37 182.40,192.40 C185.65,189.43 186.37,189.07 190.00,186.50 C193.63,183.93 199.27,179.67 204.20,177.00 C209.13,174.33 214.08,172.27 219.60,170.50 C225.12,168.73 231.58,167.15 237.30,166.40 C243.02,165.65 248.97,165.60 253.90,166.00 C258.83,166.40 262.37,167.35 266.90,168.80 C271.43,170.25 276.57,171.75 281.10,174.70 C285.63,177.65 290.55,182.57 294.10,186.50 C297.65,190.43 300.23,194.35 302.40,198.30 C304.57,202.25 305.92,205.67 307.10,210.20 C308.28,214.73 309.08,219.70 309.50,225.50 C309.92,231.30 309.70,239.78 309.60,245.00 C309.50,250.22 309.72,251.28 308.90,256.80 C308.08,262.32 306.77,271.40 304.70,278.10 C302.63,284.80 299.23,290.70 296.50,297.00" stroke-width="2.684" fill="none"/>
<path d="M292.30,303.60 L288.80,310.10" stroke-width="2.684" fill="none"/>
<path d="M284.60,316.60 C280.67,321.13 277.13,325.57 272.80,330.20 C268.47,334.83 264.52,339.87 258.60,344.40 C252.68,348.93 244.78,354.05 237.30,357.40 C229.82,360.75 219.92,362.83 213.70,364.50 C207.48,366.17 203.65,366.92 200.00,367.40 C196.35,367.88 195.72,367.88 191.80,367.40 C187.88,366.92 181.42,366.17 176.50,364.50 C171.58,362.83 166.65,360.37 162.30,357.40 C157.95,354.43 153.75,350.45 150.40,346.70 C147.05,342.95 144.57,339.23 142.20,334.90 C139.83,330.57 137.78,325.83 136.20,320.70 C134.62,315.57 133.32,310.80 132.70,304.10 C132.08,297.40 132.03,287.52 132.50,280.50 C132.97,273.48 134.42,266.58 135.50,262.00 C136.58,257.42 137.70,256.08 139.00,253.00 C140.30,249.92 141.68,246.60 143.30,243.50 C144.92,240.40 146.90,237.43 148.70,234.40" stroke-width="2.684" fill="none"/>
<path d="M151.00,227.90 L157.50,221.40" stroke-width="2.684" fill="none"/>
<path d="M268.70,249.80 C268.50,247.23 268.60,244.97 268.10,242.10 C267.60,239.23 267.28,235.75 265.70,232.60 C264.12,229.45 261.55,225.85 258.60,223.20 C255.65,220.55 251.93,218.08 248.00,216.70 C244.07,215.32 239.35,215.00 235.00,214.90 C230.65,214.80 226.45,214.72 221.90,216.10 C217.35,217.48 211.52,220.80 207.70,223.20 C203.88,225.60 201.15,228.43 199.00,230.50 C196.85,232.57 196.20,233.90 194.80,235.60" stroke-width="2.684" fill="none"/>
<path d="M190.70,241.50 L185.50,251.50" stroke-width="2.684" fill="none"/>
<path d="M180.00,259.80 C178.93,264.73 177.33,269.57 176.80,274.60 C176.27,279.63 176.27,285.87 176.80,290.00 C177.33,294.13 178.48,296.45 180.00,299.40 C181.52,302.35 183.73,305.33 185.90,307.70 C188.07,310.07 190.35,311.87 193.00,313.60 C195.65,315.33 197.37,317.50 201.80,318.10 C206.23,318.70 213.68,318.73 219.60,317.20 C225.52,315.67 231.98,312.27 237.30,308.90 C242.62,305.53 247.75,301.15 251.50,297.00 C255.25,292.85 257.03,288.33 259.80,284.00" stroke-width="2.684" fill="none"/>
<path d="M211.30,246.80 C214.07,246.03 217.03,244.60 219.60,244.50 C222.17,244.40 224.83,244.93 226.70,246.20 C228.57,247.47 230.02,250.13 230.80,252.10 C231.58,254.07 231.30,255.93 231.40,258.00 C231.50,260.07 231.40,262.33 231.40,264.50" stroke-width="2.684" fill="none"/>
<path d="M225.50,273.40 C222.73,275.37 219.57,278.02 217.20,279.30 C214.83,280.58 213.67,281.30 211.30,281.10 C208.93,280.90 204.87,279.78 203.00,278.10 C201.13,276.42 200.58,273.37 200.10,271.00 C199.62,268.63 200.10,266.27 200.10,263.90" stroke-width="2.684" fill="none"/>
<path d="M201.80,257.40 L207.20,252.70" stroke-width="2.44" fill="none"/>
<path d="M363.20,221.40 L369.60,221.40 L372.70,224.10 L377.30,225.90 L381.80,229.60 L385.90,232.70 L386.90,235.90 L390.90,237.30 L395.50,240.50 L401.00,243.70 L404.60,246.80 L406.60,248.90 L406.60,253.50 L401.40,257.60 L394.60,258.50 L391.90,256.90 L388.70,254.10 L384.60,252.30 L381.80,251.40 L378.20,248.70 L373.70,248.50 L369.10,246.40 L363.60,244.10 L359.10,241.40 L355.90,237.70 L355.00,234.10 L355.50,230.00 L356.80,226.40 L360.00,222.30 Z" stroke-width="2.928" fill="#fff"/>
<path d="M384.60,240.50 L388.70,236.40 L395.50,240.50 L400.50,244.10 L396.00,247.80 L395.00,251.40 L394.60,258.20 L390.00,256.00 L384.60,252.80 L382.80,247.80 Z" stroke-width="1.22" fill="#000"/>
<path d="M395.80,250.50 L398.40,247.60 L401.20,247.20 L403.80,250.20 L399.20,255.60 L395.40,255.60 Z" stroke-width="0.122" fill="#fff" stroke="none"/>
<path d="M372.30,225.60 C370.63,226.93 368.58,228.18 367.30,229.60 C366.02,231.02 365.13,232.37 364.60,234.10 C364.07,235.83 364.27,238.03 364.10,240.00" stroke-width="2.684" fill="none"/>
<path d="M377.00,228.50 C375.27,228.53 373.27,228.12 371.80,228.60 C370.33,229.08 369.18,230.25 368.20,231.40 C367.22,232.55 366.35,233.98 365.90,235.50 C365.45,237.02 365.12,239.18 365.50,240.50 C365.88,241.82 367.30,242.43 368.20,243.40" stroke-width="2.44" fill="none"/>
<path d="M370.60,240.20 L370.90,245.50" stroke-width="2.44" fill="none"/>
<path d="M381.80,233.70 C380.60,234.30 379.18,234.60 378.20,235.50 C377.22,236.40 376.20,237.67 375.90,239.10 C375.60,240.53 375.87,242.88 376.40,244.10 C376.93,245.32 378.20,245.63 379.10,246.40" stroke-width="2.44" fill="none"/>
<line x1="384.40" y1="252.50" x2="384.40" y2="297.00" stroke-width="3.294"/>
<path d="M293.10,363.10 L297.10,358.00 L300.70,357.10 L306.20,358.00 L312.70,358.20 L317.10,360.60 L319.30,364.90 L322.90,367.10 L325.80,369.70 L325.80,378.40 L322.90,382.00 L319.70,385.70 L313.10,385.70 L309.50,383.10 L305.10,382.80 L301.50,380.90 L298.20,376.90 L297.80,374.00 L293.50,370.00 Z" stroke-width="0.976" fill="#000"/>
<path d="M313.40,369.30 L320.60,369.20 L323.00,373.30 L321.90,377.30 L319.60,381.60 L313.60,382.60 L312.30,376.20 L313.40,373.30 Z" stroke-width="0.122" fill="#fff" stroke="none"/>
<path d="M305.80,366.40 L311.30,363.30 L316.40,366.20 L311.70,370.80 Z" stroke-width="0.122" fill="#fff" stroke="none"/>
<path d="M304.20,370.40 L309.60,373.40 L308.60,378.80 L304.20,375.40 Z" stroke-width="0.122" fill="#fff" stroke="none"/>
<path d="M296.30,368.50 C296.93,366.87 297.28,364.97 298.20,363.60 C299.12,362.23 300.60,361.40 301.80,360.30" stroke-width="1.342" fill="none" stroke="#fff"/>
<path d="M300.20,377.50 C300.00,375.50 299.43,373.38 299.60,371.50 C299.77,369.62 300.67,367.97 301.20,366.20" stroke-width="1.22" fill="none" stroke="#fff"/>
<path d="M304.50,363.50 L308.50,361.20" stroke-width="1.22" fill="none" stroke="#fff"/>
<line x1="314.00" y1="385.50" x2="314.00" y2="410.80" stroke-width="2.8059999999999996"/>
<path d="M230.60,537.10 C234.85,537.10 239.52,537.93 244.60,539.00 C249.68,540.07 255.80,541.58 261.10,543.50 C266.40,545.42 270.67,547.63 276.40,550.50 C282.13,553.37 289.55,557.30 295.50,560.70 C301.45,564.10 306.78,567.93 312.10,570.90 C317.42,573.87 322.73,575.53 327.40,578.50 C332.07,581.47 335.85,584.67 340.10,588.70 C344.35,592.73 349.07,597.40 352.90,602.70 C356.73,608.00 360.35,614.35 363.10,620.50 C365.85,626.65 367.93,632.18 369.40,639.60 C370.87,647.02 371.60,656.68 371.90,665.00 C372.20,673.32 372.43,680.78 371.20,689.50 C369.97,698.22 367.82,708.03 364.50,717.30 C361.18,726.57 356.77,736.10 351.30,745.10 C345.83,754.10 338.78,762.83 331.70,771.30 C324.62,779.77 316.98,788.80 308.80,795.90 C300.62,803.00 291.33,809.27 282.60,813.90 C273.87,818.53 263.50,821.45 256.40,823.70 C249.30,825.95 244.52,826.65 240.00,827.40 C235.48,828.15 235.33,828.95 229.30,828.20 C223.27,827.45 211.70,825.45 203.80,822.90 C195.90,820.35 187.97,815.78 181.90,812.90 C175.83,810.02 172.85,808.33 167.40,805.60 C161.95,802.87 155.88,799.83 149.20,796.50 C142.52,793.17 133.37,789.23 127.30,785.60 C121.23,781.97 117.35,778.95 112.80,774.70 C108.25,770.45 103.65,765.87 100.00,760.10 C96.35,754.33 93.17,747.38 90.90,740.10 C88.63,732.82 87.12,724.58 86.40,716.40 C85.68,708.22 85.85,700.10 86.60,691.00 C87.35,681.90 88.67,670.58 90.90,661.80 C93.13,653.02 96.48,646.77 100.00,638.30 C103.52,629.83 107.45,619.20 112.00,611.00 C116.55,602.80 120.20,596.57 127.30,589.10 C134.40,581.63 146.40,572.22 154.60,566.20 C162.80,560.18 168.93,556.78 176.50,553.00 C184.07,549.22 192.90,545.83 200.00,543.50 C207.10,541.17 214.00,540.07 219.10,539.00 C224.20,537.93 226.35,537.10 230.60,537.10 Z" stroke-width="2.8059999999999996" fill="none"/>
<path d="M281.50,570.00 C286.00,570.27 290.32,570.33 295.00,570.80 C299.68,571.27 304.73,572.13 309.60,572.80" stroke-width="3.172" fill="none"/>
<path d="M158.30,789.30 C161.20,792.87 163.67,796.37 167.00,800.00 C170.33,803.63 174.53,807.40 178.30,811.10" stroke-width="2.44" fill="none"/>
<path d="M282.80,595.10 C289.45,594.55 295.53,594.65 301.90,595.70 C308.27,596.75 315.68,598.95 321.00,601.40 C326.32,603.85 329.97,607.00 333.80,610.40 C337.63,613.80 341.03,617.35 344.00,621.80 C346.97,626.25 349.53,632.00 351.60,637.10 C353.67,642.20 355.40,647.75 356.40,652.40 C357.40,657.05 357.48,661.00 357.60,665.00 C357.72,669.00 357.87,669.60 357.10,676.40 C356.33,683.20 355.60,695.98 353.00,705.80 C350.40,715.62 346.68,725.47 341.50,735.30 C336.32,745.13 328.45,756.62 321.90,764.80 C315.35,772.98 309.02,778.95 302.20,784.40 C295.38,789.85 288.63,793.95 281.00,797.50 C273.37,801.05 263.23,803.78 256.40,805.70 C249.57,807.62 244.52,808.40 240.00,809.00 C235.48,809.60 235.33,811.07 229.30,809.30 C223.27,807.53 211.08,803.25 203.80,798.40 C196.52,793.55 190.23,786.27 185.60,780.20 C180.97,774.13 178.60,768.70 176.00,762.00 C173.40,755.30 171.12,748.20 170.00,740.00 C168.88,731.80 168.70,720.97 169.30,712.80 C169.90,704.63 172.12,696.60 173.60,691.00 C175.08,685.40 176.37,683.45 178.20,679.20 C180.03,674.95 181.87,670.20 184.60,665.50 C187.33,660.80 191.12,655.85 194.60,651.00 C198.08,646.15 200.65,641.57 205.50,636.40 C210.35,631.23 217.63,625.00 223.70,620.00 C229.77,615.00 235.52,609.90 241.90,606.40 C248.28,602.90 255.18,600.88 262.00,599.00 C268.82,597.12 276.15,595.65 282.80,595.10 Z" stroke-width="2.8059999999999996" fill="none"/>
<path d="M276.40,611.60 C282.77,611.33 289.55,611.42 295.50,612.90 C301.45,614.38 307.22,616.88 312.10,620.50 C316.98,624.12 321.62,629.92 324.80,634.60 C327.98,639.28 329.95,643.53 331.20,648.60 C332.45,653.67 332.22,659.00 332.30,665.00 C332.38,671.00 332.62,677.25 331.70,684.60 C330.78,691.95 329.25,700.92 326.80,709.10 C324.35,717.28 321.10,726.33 317.00,733.70 C312.90,741.07 307.67,747.57 302.20,753.30 C296.73,759.03 290.47,764.00 284.20,768.10 C277.93,772.20 271.97,775.03 264.60,777.90 C257.23,780.77 247.40,784.62 240.00,785.30 C232.60,785.98 226.23,784.07 220.20,782.00 C214.17,779.93 208.67,777.15 203.80,772.90 C198.93,768.65 194.03,761.67 191.00,756.50 C187.97,751.33 187.07,747.37 185.60,741.90 C184.13,736.43 182.67,730.07 182.20,723.70 C181.73,717.33 182.25,708.40 182.80,703.70 C183.35,699.00 184.15,699.43 185.50,695.50 C186.85,691.57 188.63,685.40 190.90,680.10 C193.17,674.80 196.07,668.72 199.10,663.70 C202.13,658.68 205.00,654.85 209.10,650.00 C213.20,645.15 218.23,639.45 223.70,634.60 C229.17,629.75 236.30,624.25 241.90,620.90 C247.50,617.55 251.55,616.05 257.30,614.50 C263.05,612.95 270.03,611.87 276.40,611.60 Z" stroke-width="2.8059999999999996" fill="none"/>
<path d="M275.20,611.60 C276.90,616.70 279.13,621.17 280.30,626.90 C281.47,632.63 282.20,639.65 282.20,646.00 C282.20,652.35 281.33,659.12 280.30,665.00 C279.27,670.88 278.35,675.03 276.00,681.30 C273.65,687.57 270.02,696.05 266.20,702.60 C262.38,709.15 256.83,716.17 253.10,720.60 C249.37,725.03 248.38,725.03 243.80,729.20 C239.22,733.37 231.67,741.35 225.60,745.60 C219.53,749.85 213.17,752.73 207.40,754.70 C201.63,756.67 196.47,756.50 191.00,757.40" stroke-width="2.684" fill="none"/>
<path d="M191.50,757.20 C194.00,756.73 196.35,756.30 199.00,755.80 C201.65,755.30 204.60,754.73 207.40,754.20" stroke-width="3.66" fill="none"/>
<path d="M279.00,612.90 C280.70,617.57 282.93,621.17 284.10,626.90 C285.27,632.63 285.37,640.50 286.00,647.30" stroke-width="1.952" fill="none"/>
<path d="M304.50,616.70 C309.57,621.37 315.88,626.45 319.70,630.70 C323.52,634.95 325.27,638.17 327.40,642.20 C329.53,646.23 330.80,650.67 332.50,654.90" stroke-width="4.148" fill="none"/>
<line x1="230.60" y1="506.50" x2="230.60" y2="537.50" stroke-width="3.172"/>
<path d="M165.00,560.30 C160.00,563.93 154.83,567.28 150.00,571.20 C145.17,575.12 140.50,579.20 136.00,583.80 C131.50,588.40 127.08,593.47 123.00,598.80 C118.92,604.13 115.33,610.13 111.50,615.80" stroke-width="3.172" fill="none"/>
<path d="M169.50,567.50 C164.67,571.17 159.75,574.58 155.00,578.50 C150.25,582.42 145.42,586.58 141.00,591.00 C136.58,595.42 132.33,599.92 128.50,605.00 C124.67,610.08 121.50,616.00 118.00,621.50" stroke-width="2.928" fill="none"/>
<line x1="161.50" y1="563.60" x2="165.80" y2="570.20" stroke-width="2.928"/>
<line x1="152.60" y1="570.30" x2="157.00" y2="576.30" stroke-width="2.928"/>
<line x1="143.50" y1="577.50" x2="148.00" y2="583.50" stroke-width="2.928"/>
<line x1="135.00" y1="586.00" x2="139.50" y2="591.50" stroke-width="2.928"/>
<line x1="127.00" y1="595.50" x2="131.50" y2="601.00" stroke-width="2.928"/>
<line x1="119.50" y1="606.00" x2="124.00" y2="611.50" stroke-width="2.928"/>
<line x1="113.50" y1="614.50" x2="118.50" y2="620.00" stroke-width="2.928"/>
<path d="M182.50,571.50 C177.67,575.33 173.08,578.75 168.00,583.00 C162.92,587.25 157.00,592.17 152.00,597.00 C147.00,601.83 142.17,607.08 138.00,612.00 C133.83,616.92 130.67,621.67 127.00,626.50" stroke-width="7.32" fill="none"/>
<path d="M182.50,571.50 C177.67,575.33 173.08,578.75 168.00,583.00 C162.92,587.25 157.00,592.17 152.00,597.00 C147.00,601.83 142.17,607.08 138.00,612.00 C133.83,616.92 130.67,621.67 127.00,626.50" stroke-width="1.098" fill="none" stroke="#fff" stroke-dasharray="2.5 1.8"/>
<path d="M194.50,581.50 C189.33,585.67 184.25,589.58 179.00,594.00 C173.75,598.42 167.83,603.67 163.00,608.00 C158.17,612.33 153.92,615.92 150.00,620.00 C146.08,624.08 143.00,628.33 139.50,632.50" stroke-width="7.32" fill="none"/>
<path d="M194.50,581.50 C189.33,585.67 184.25,589.58 179.00,594.00 C173.75,598.42 167.83,603.67 163.00,608.00 C158.17,612.33 153.92,615.92 150.00,620.00 C146.08,624.08 143.00,628.33 139.50,632.50" stroke-width="1.098" fill="none" stroke="#fff" stroke-dasharray="2.5 1.8"/>
<line x1="159.00" y1="578.20" x2="171.00" y2="578.20" stroke-width="3.172"/>
<line x1="147.00" y1="588.30" x2="156.50" y2="588.80" stroke-width="3.172"/>
<line x1="136.00" y1="599.50" x2="148.00" y2="598.90" stroke-width="3.172"/>
<line x1="125.30" y1="612.90" x2="136.80" y2="612.20" stroke-width="3.172"/>
<line x1="176.40" y1="596.80" x2="187.40" y2="596.80" stroke-width="3.172"/>
<line x1="166.70" y1="608.40" x2="175.60" y2="609.00" stroke-width="3.172"/>
<line x1="155.70" y1="620.80" x2="166.00" y2="621.10" stroke-width="3.172"/>
<line x1="147.00" y1="632.80" x2="154.60" y2="632.80" stroke-width="3.172"/>
<path d="M206.50,587.50 C201.00,592.00 195.75,595.92 190.00,601.00 C184.25,606.08 177.00,613.00 172.00,618.00 C167.00,623.00 162.92,627.25 160.00,631.00 C157.08,634.75 156.33,637.33 154.50,640.50" stroke-width="2.928" fill="none"/>
<line x1="200.50" y1="592.40" x2="201.60" y2="602.20" stroke-width="2.928"/>
<line x1="190.60" y1="603.30" x2="191.70" y2="611.00" stroke-width="2.928"/>
<line x1="180.80" y1="613.20" x2="183.00" y2="620.30" stroke-width="2.928"/>
<line x1="171.00" y1="623.00" x2="172.00" y2="630.60" stroke-width="2.928"/>
<line x1="161.20" y1="634.00" x2="162.80" y2="642.10" stroke-width="2.928"/>
<path d="M227.30,965.20 L201.50,965.20 L195.60,971.50 L195.90,1018.40 L202.40,1022.60 L227.30,1022.20" stroke-width="3.172" fill="none"/>
<line x1="204.10" y1="966.80" x2="204.10" y2="1021.70" stroke-width="2.196"/>
<rect x="228.6" y="949.5" width="9.4" height="90" stroke-width="2.8"/>
<rect x="240.7" y="952.8" width="9.0" height="82.2" rx="3.5" stroke-width="2.3"/>
<path d="M251.20,956.00 L310.50,956.00 L313.60,960.00 L313.60,1027.00 L311.00,1031.30 L252.50,1031.30" stroke-width="3.416" fill="none"/>
<line x1="251.50" y1="974.30" x2="311.00" y2="974.30" stroke-width="2.44"/>
<line x1="251.50" y1="977.40" x2="311.00" y2="977.40" stroke-width="1.586"/>
<line x1="251.50" y1="1010.40" x2="311.00" y2="1010.40" stroke-width="2.44"/>
<line x1="251.50" y1="1013.00" x2="311.00" y2="1013.00" stroke-width="1.586"/>
<path d="M252.10,957.70 C253.07,960.10 255.08,962.32 255.00,964.90 C254.92,967.48 252.73,970.43 251.60,973.20" stroke-width="2.44" fill="none"/>
<path d="M251.40,978.20 C252.27,982.37 254.00,985.60 254.00,990.70 C254.00,995.80 252.27,1002.77 251.40,1008.80" stroke-width="2.44" fill="none"/>
<path d="M251.40,1014.60 C252.93,1017.47 255.72,1020.50 256.00,1023.20 C256.28,1025.90 254.07,1028.27 253.10,1030.80" stroke-width="2.44" fill="none"/>
<path d="M309.50,957.20 C310.47,959.77 312.40,962.35 312.40,964.90 C312.40,967.45 310.47,969.97 309.50,972.50" stroke-width="2.44" fill="none"/>
<path d="M309.50,977.80 C310.30,981.13 311.73,982.95 311.90,987.80 C312.07,992.65 310.98,1003.28 310.50,1006.90 C310.02,1010.52 309.50,1008.63 309.00,1009.50" stroke-width="2.44" fill="none"/>
<path d="M309.50,1013.60 C310.77,1016.17 312.98,1018.43 313.30,1021.30 C313.62,1024.17 312.03,1027.63 311.40,1030.80" stroke-width="2.44" fill="none"/>
<rect x="315.7" y="965.7" width="9.6" height="54.3" stroke-width="2.8"/>
<line x1="317.60" y1="966.50" x2="317.60" y2="1019.50" stroke-width="1.464"/>
<path d="M393.70,954.20 L420.50,954.20 L422.30,957.00 L422.30,1027.00 L420.50,1029.40 L394.60,1029.40 L386.80,1024.50 L371.60,1015.90 L370.60,967.50 L386.80,958.00 Z" stroke-width="3.416" fill="none"/>
<path d="M422.70,965.30 C425.43,965.30 428.10,964.80 430.90,965.30 C433.70,965.80 436.92,966.63 439.50,968.30 C442.08,969.97 444.52,972.70 446.40,975.30 C448.28,977.90 449.87,980.88 450.80,983.90 C451.73,986.92 452.00,990.38 452.00,993.40 C452.00,996.42 451.87,999.12 450.80,1002.00 C449.73,1004.88 447.77,1008.25 445.60,1010.70 C443.43,1013.15 440.40,1015.27 437.80,1016.70 C435.20,1018.13 432.38,1018.58 430.00,1019.30 C427.62,1020.02 425.67,1020.43 423.50,1021.00" stroke-width="3.172" fill="none"/>
<path d="M386.80,958.50 C386.73,961.50 385.60,965.07 386.60,967.50 C387.60,969.93 390.73,971.23 392.80,973.10" stroke-width="2.44" fill="none"/>
<line x1="392.80" y1="973.30" x2="416.00" y2="973.30" stroke-width="2.44"/>
<path d="M416.00,973.30 C417.20,971.37 418.97,970.05 419.60,967.50 C420.23,964.95 419.73,961.17 419.80,958.00" stroke-width="2.44" fill="none"/>
<path d="M392.80,973.50 C391.37,975.80 389.35,977.52 388.50,980.40 C387.65,983.28 387.70,987.48 387.70,990.80 C387.70,994.12 387.50,997.20 388.50,1000.30 C389.50,1003.40 391.97,1006.37 393.70,1009.40" stroke-width="2.44" fill="none"/>
<path d="M416.20,973.50 C417.53,976.10 419.45,977.40 420.20,981.30 C420.95,985.20 420.93,993.02 420.70,996.90 C420.47,1000.78 419.55,1002.45 418.80,1004.60 C418.05,1006.75 417.07,1008.07 416.20,1009.80" stroke-width="2.44" fill="none"/>
<line x1="393.70" y1="1009.70" x2="416.20" y2="1009.70" stroke-width="2.44"/>
<path d="M393.70,1009.80 C391.97,1011.83 389.48,1013.73 388.50,1015.90 C387.52,1018.07 387.50,1020.87 387.80,1022.80 C388.10,1024.73 389.47,1025.93 390.30,1027.50" stroke-width="2.44" fill="none"/>
<path d="M416.20,1010.70 C417.77,1012.43 420.12,1013.45 420.90,1015.90 C421.68,1018.35 420.90,1022.23 420.90,1025.40" stroke-width="2.44" fill="none"/>
</g>
<g style="will-change:opacity" opacity="0.999">
<text x="801.58" y="54.00" font-size="20.35" transform="scale(0.8 1)">T</text>
<text x="816.36" y="54.00" font-size="20.35" transform="scale(0.8 1)">Y</text>
<text x="782.25" y="54.00" font-size="20.35" transform="scale(0.85 1)">P</text>
<text x="735.58" y="54.00" font-size="20.35" transform="scale(0.92 1)">E</text>
<text x="867.52" y="98.00" font-size="21.80" transform="scale(0.74 1)">S</text>
<text x="653.59" y="98.00" font-size="21.80" transform="scale(1.0 1)">I</text>
<text x="923.91" y="98.00" font-size="21.80" transform="scale(0.72 1)">Z</text>
<text x="735.69" y="98.00" font-size="21.80" transform="scale(0.92 1)">E</text>
<text x="1109.88" y="54.00" font-size="20.35" transform="scale(0.81 1)">A</text>
<text x="839.71" y="81.80" font-size="20.93" transform="scale(0.95 1)">1</text>
<rect x="792.00" y="79" width="4.72" height="4" fill="#fff" stroke="none" shape-rendering="crispEdges"/>
<rect x="799.68" y="79" width="4.32" height="4" fill="#fff" stroke="none" shape-rendering="crispEdges"/>
<text x="918.95" y="81.80" font-size="20.93" transform="scale(0.88 1)">4</text>
<text x="1051.57" y="81.80" font-size="20.93" transform="scale(0.78 1)">X</text>
<text x="945.20" y="81.80" font-size="20.93" transform="scale(0.88 1)">6</text>
<text x="992.15" y="81.80" font-size="20.93" transform="scale(0.85 1)">J</text>
<text x="1005.74" y="81.80" font-size="20.93" transform="scale(0.85 1)">J</text>
<text x="1153.04" y="138.70" font-size="21.95" transform="scale(0.81 1)">A</text>
<text x="1182.48" y="138.70" font-size="21.95" transform="scale(0.8 1)">L</text>
<text x="1294.61" y="138.70" font-size="21.95" transform="scale(0.74 1)">U</text>
<text x="1276.37" y="138.70" font-size="21.95" transform="scale(0.76 1)">M</text>
<text x="982.06" y="138.70" font-size="21.95" transform="scale(1.0 1)">I</text>
<text x="1227.27" y="138.70" font-size="21.95" transform="scale(0.81 1)">N</text>
<text x="1359.61" y="138.70" font-size="21.95" transform="scale(0.74 1)">U</text>
<text x="1339.65" y="138.70" font-size="21.95" transform="scale(0.76 1)">M</text>
<text x="1389.23" y="56.00" font-size="20.35" transform="scale(0.8 1)">T</text>
<text x="1404.33" y="56.00" font-size="20.35" transform="scale(0.8 1)">Y</text>
<text x="1335.93" y="56.00" font-size="20.35" transform="scale(0.85 1)">P</text>
<text x="1247.40" y="56.00" font-size="20.35" transform="scale(0.92 1)">E</text>
<text x="1504.41" y="98.90" font-size="21.08" transform="scale(0.74 1)">S</text>
<text x="1125.09" y="98.90" font-size="21.08" transform="scale(1.0 1)">I</text>
<text x="1579.05" y="98.90" font-size="21.08" transform="scale(0.72 1)">Z</text>
<text x="1248.63" y="98.90" font-size="21.08" transform="scale(0.92 1)">E</text>
<text x="1654.88" y="55.00" font-size="21.80" transform="scale(0.82 1)">B</text>
<text x="1319.71" y="83.00" font-size="22.24" transform="scale(0.95 1)">1</text>
<rect x="1248.00" y="80" width="4.66" height="4" fill="#fff" stroke="none" shape-rendering="crispEdges"/>
<rect x="1255.80" y="80" width="4.20" height="4" fill="#fff" stroke="none" shape-rendering="crispEdges"/>
<text x="1437.13" y="83.00" font-size="22.24" transform="scale(0.88 1)">4</text>
<text x="1636.19" y="83.00" font-size="22.24" transform="scale(0.78 1)">X</text>
<text x="1463.38" y="83.00" font-size="22.24" transform="scale(0.88 1)">6</text>
<text x="1528.62" y="83.00" font-size="22.24" transform="scale(0.85 1)">J</text>
<text x="1542.21" y="83.00" font-size="22.24" transform="scale(0.85 1)">J</text>
<text x="1927.41" y="139.00" font-size="20.78" transform="scale(0.74 1)">S</text>
<text x="1797.67" y="139.00" font-size="20.78" transform="scale(0.8 1)">T</text>
<text x="1576.09" y="139.00" font-size="20.78" transform="scale(0.92 1)">E</text>
<text x="1588.98" y="139.00" font-size="20.78" transform="scale(0.92 1)">E</text>
<text x="1842.15" y="139.00" font-size="20.78" transform="scale(0.8 1)">L</text>
<text x="543.09" y="375.90" font-size="21.51" transform="scale(0.88 1)">4</text>
<text x="555.98" y="375.90" font-size="21.51" transform="scale(0.88 1)">2</text>
<text x="568.86" y="375.90" font-size="21.51" transform="scale(0.88 1)">6</text>
<text x="581.75" y="375.90" font-size="21.51" transform="scale(0.88 1)">0</text>
<text x="551.45" y="375.90" font-size="21.51" transform="scale(0.95 1)">1</text>
<rect x="518.00" y="373" width="4.85" height="4" fill="#fff" stroke="none" shape-rendering="crispEdges"/>
<rect x="525.89" y="373" width="4.11" height="4" fill="#fff" stroke="none" shape-rendering="crispEdges"/>
<text x="533.38" y="394.10" font-size="20.49" transform="scale(0.88 1)">4</text>
<text x="547.07" y="394.10" font-size="20.49" transform="scale(0.88 1)">2</text>
<text x="560.77" y="394.10" font-size="20.49" transform="scale(0.88 1)">6</text>
<text x="574.46" y="394.10" font-size="20.49" transform="scale(0.88 1)">0</text>
<text x="545.45" y="394.10" font-size="20.49" transform="scale(0.95 1)">1</text>
<rect x="513.00" y="391" width="4.19" height="4" fill="#fff" stroke="none" shape-rendering="crispEdges"/>
<rect x="520.10" y="391" width="3.90" height="4" fill="#fff" stroke="none" shape-rendering="crispEdges"/>
<text x="653.86" y="394.10" font-size="20.49" transform="scale(0.81 1)">A</text>
<text x="404.19" y="318.00" font-size="19.77" transform="scale(0.88 1)">4</text>
<text x="417.67" y="318.00" font-size="19.77" transform="scale(0.88 1)">2</text>
<text x="431.16" y="318.00" font-size="19.77" transform="scale(0.88 1)">6</text>
<text x="412.51" y="318.00" font-size="19.77" transform="scale(0.95 1)">1</text>
<rect x="387.00" y="315" width="3.92" height="4" fill="#fff" stroke="none" shape-rendering="crispEdges"/>
<rect x="393.74" y="315" width="4.26" height="4" fill="#fff" stroke="none" shape-rendering="crispEdges"/>
<text x="425.00" y="318.00" font-size="19.77" transform="scale(0.95 1)">1</text>
<rect x="399.00" y="315" width="3.79" height="4" fill="#fff" stroke="none" shape-rendering="crispEdges"/>
<rect x="405.61" y="315" width="4.39" height="4" fill="#fff" stroke="none" shape-rendering="crispEdges"/>
<text x="506.12" y="318.00" font-size="19.77" transform="scale(0.82 1)">G</text>
<text x="404.02" y="338.80" font-size="20.06" transform="scale(0.88 1)">4</text>
<text x="417.19" y="338.80" font-size="20.06" transform="scale(0.88 1)">2</text>
<text x="430.35" y="338.80" font-size="20.06" transform="scale(0.88 1)">6</text>
<text x="411.46" y="338.80" font-size="20.06" transform="scale(0.95 1)">1</text>
<rect x="386.00" y="336" width="3.92" height="4" fill="#fff" stroke="none" shape-rendering="crispEdges"/>
<rect x="392.77" y="336" width="4.23" height="4" fill="#fff" stroke="none" shape-rendering="crispEdges"/>
<text x="423.66" y="338.80" font-size="20.06" transform="scale(0.95 1)">1</text>
<rect x="397.00" y="336" width="4.50" height="4" fill="#fff" stroke="none" shape-rendering="crispEdges"/>
<rect x="404.36" y="336" width="3.64" height="4" fill="#fff" stroke="none" shape-rendering="crispEdges"/>
<text x="486.42" y="338.80" font-size="20.06" transform="scale(0.85 1)">J</text>
<text x="326.47" y="428.40" font-size="19.19" transform="scale(0.88 1)">4</text>
<text x="339.97" y="428.40" font-size="19.19" transform="scale(0.88 1)">2</text>
<text x="353.48" y="428.40" font-size="19.19" transform="scale(0.88 1)">6</text>
<text x="366.98" y="428.40" font-size="19.19" transform="scale(0.88 1)">0</text>
<text x="353.08" y="428.40" font-size="19.19" transform="scale(0.95 1)">1</text>
<rect x="330.00" y="426" width="4.49" height="3" fill="#fff" stroke="none" shape-rendering="crispEdges"/>
<rect x="337.23" y="426" width="3.77" height="3" fill="#fff" stroke="none" shape-rendering="crispEdges"/>
<text x="422.82" y="428.40" font-size="19.19" transform="scale(0.82 1)">C</text>
<text x="237.87" y="475.50" font-size="21.66" transform="scale(0.88 1)">4</text>
<text x="251.24" y="475.50" font-size="21.66" transform="scale(0.88 1)">2</text>
<text x="264.60" y="475.50" font-size="21.66" transform="scale(0.88 1)">6</text>
<text x="277.97" y="475.50" font-size="21.66" transform="scale(0.88 1)">5</text>
<text x="291.33" y="475.50" font-size="21.66" transform="scale(0.88 1)">2</text>
<text x="231.53" y="502.50" font-size="20.64" transform="scale(0.88 1)">4</text>
<text x="244.94" y="502.50" font-size="20.64" transform="scale(0.88 1)">2</text>
<text x="258.35" y="502.50" font-size="20.64" transform="scale(0.88 1)">6</text>
<text x="271.76" y="502.50" font-size="20.64" transform="scale(0.88 1)">5</text>
<text x="285.17" y="502.50" font-size="20.64" transform="scale(0.88 1)">2</text>
<text x="324.38" y="502.50" font-size="20.64" transform="scale(0.81 1)">A</text>
<text x="352.70" y="877.40" font-size="19.91" transform="scale(0.88 1)">4</text>
<text x="366.39" y="877.40" font-size="19.91" transform="scale(0.88 1)">2</text>
<text x="380.09" y="877.40" font-size="19.91" transform="scale(0.88 1)">6</text>
<text x="393.78" y="877.40" font-size="19.91" transform="scale(0.88 1)">0</text>
<text x="378.08" y="877.40" font-size="19.91" transform="scale(0.95 1)">1</text>
<rect x="354.00" y="874" width="4.21" height="4" fill="#fff" stroke="none" shape-rendering="crispEdges"/>
<rect x="361.05" y="874" width="3.95" height="4" fill="#fff" stroke="none" shape-rendering="crispEdges"/>
<text x="451.98" y="877.40" font-size="19.91" transform="scale(0.82 1)">C</text>
<text x="285.18" y="912.00" font-size="19.62" transform="scale(0.8 1)">T</text>
<text x="299.91" y="912.00" font-size="19.62" transform="scale(0.8 1)">Y</text>
<text x="296.13" y="912.00" font-size="19.62" transform="scale(0.85 1)">P</text>
<text x="286.40" y="912.00" font-size="19.62" transform="scale(0.92 1)">E</text>
<text x="354.39" y="912.00" font-size="19.62" transform="scale(0.81 1)">A</text>
<text x="466.55" y="911.00" font-size="19.62" transform="scale(0.8 1)">T</text>
<text x="481.28" y="911.00" font-size="19.62" transform="scale(0.8 1)">Y</text>
<text x="466.83" y="911.00" font-size="19.62" transform="scale(0.85 1)">P</text>
<text x="444.12" y="911.00" font-size="19.62" transform="scale(0.92 1)">E</text>
<text x="527.02" y="911.00" font-size="19.62" transform="scale(0.82 1)">B</text>
<text x="1546.92" y="1059.00" font-size="22.09" transform="scale(0.88 1)">4</text>
<text x="1446.08" y="1059.00" font-size="22.09" transform="scale(0.95 1)">1</text>
<rect x="1368.00" y="1056" width="4.72" height="4" fill="#fff" stroke="none" shape-rendering="crispEdges"/>
<rect x="1375.84" y="1056" width="4.16" height="4" fill="#fff" stroke="none" shape-rendering="crispEdges"/>
<text x="1573.93" y="1059.00" font-size="22.09" transform="scale(0.88 1)">0</text>
<text x="1471.10" y="1059.00" font-size="22.09" transform="scale(0.95 1)">1</text>
<rect x="1392.00" y="1056" width="4.48" height="4" fill="#fff" stroke="none" shape-rendering="crispEdges"/>
<rect x="1399.60" y="1056" width="4.40" height="4" fill="#fff" stroke="none" shape-rendering="crispEdges"/>
<text x="1600.94" y="1059.00" font-size="22.09" transform="scale(0.88 1)">0</text>
<text x="1614.44" y="1059.00" font-size="22.09" transform="scale(0.88 1)">3</text>
</g>
</svg>
</body></html>
